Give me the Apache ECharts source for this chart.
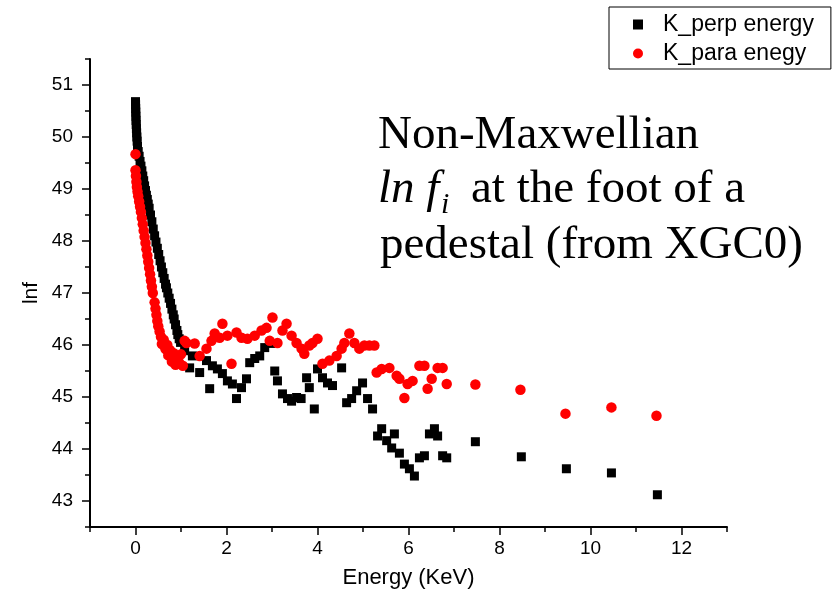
<!DOCTYPE html>
<html><head><meta charset="utf-8">
<script src="https://cdn.jsdelivr.net/npm/echarts@6/dist/echarts.min.js"></script>
<style>html,body{margin:0;padding:0;background:#fff}#c{width:838px;height:603px}</style>
</head><body><div id="c"></div>
<script>
// K_perp energy (black squares)
const perpEnergy = [0.000,0.002,0.004,0.006,0.009,0.012,0.016,0.020,0.025,0.030,0.036,0.044,0.06,0.08,0.10,0.12,0.14,0.16,0.18,0.20,0.22,0.24,0.26,0.28,0.30,0.33,0.36,0.39,0.42,0.45,0.48,0.51,0.54,0.57,0.60,0.63,0.66,0.68,0.71,0.74,0.77,0.80,0.83,0.85,0.88,0.91,0.93,0.96,0.99,
  1.08,1.19,1.25,1.41,1.56,1.63,1.69,1.80,1.91,2.02,2.13,2.22,2.33,2.44,2.51,2.62,2.73,2.84,2.97,3.06,3.12,3.23,3.34,3.43,3.54,3.64,3.76,3.82,3.93,4.00,4.11,4.22,4.33,4.53,4.64,4.75,4.86,4.99,5.10,5.21,5.32,5.41,5.52,5.63,5.69,5.80,5.91,6.02,6.13,6.24,6.35,6.46,6.57,6.64,6.75,6.84,7.47,8.48,9.47,10.46,11.47];
const perpLnf = [50.68,50.62,50.55,50.48,50.40,50.32,50.24,50.16,50.08,50.00,49.92,49.82,49.72,49.63,49.53,49.44,49.35,49.25,49.16,49.06,48.97,48.88,48.80,48.71,48.63,48.50,48.37,48.23,48.10,47.98,47.86,47.74,47.62,47.50,47.39,47.28,47.17,47.10,47.00,46.90,46.80,46.69,46.58,46.50,46.39,46.28,46.20,46.12,46.05,
  45.89,45.56,45.79,45.47,45.70,45.16,45.60,45.54,45.45,45.31,45.25,44.97,45.18,45.35,45.66,45.74,45.79,45.95,46.03,45.50,45.31,45.06,44.97,44.92,44.99,44.97,45.37,45.18,44.77,45.54,45.37,45.27,45.22,45.56,44.89,44.97,45.12,45.27,44.97,44.77,44.25,44.39,44.16,44.02,44.29,43.92,43.71,43.62,43.48,43.83,43.87,44.29,44.39,44.25,43.87,43.83,44.14,43.85,43.62,43.54,43.12];

// K_para enegy (red circles)
const paraEnergy = [0.00,0.00,0.01,0.02,0.03,0.045,0.06,0.08,0.10,0.12,0.14,0.16,0.18,0.20,0.22,0.24,0.26,0.28,0.30,0.32,0.34,0.36,0.38,0.42,0.44,0.46,0.48,0.50,0.53,0.56,0.58,0.62,0.66,0.70,0.72,0.76,0.80,0.84,0.88,0.92,0.96,1.00,1.04,
  1.08,1.12,1.30,1.41,1.56,1.67,1.74,1.85,1.91,2.02,2.11,2.22,2.33,2.46,2.62,2.77,2.88,2.95,3.01,3.12,3.23,3.32,3.43,3.54,3.65,3.71,3.82,3.89,4.00,4.11,4.26,4.42,4.53,4.59,4.70,4.81,4.92,5.03,5.14,5.25,5.30,5.41,5.58,5.74,5.80,5.91,5.98,6.09,6.24,6.35,6.42,6.51,6.64,6.75,6.84,7.47,8.46,9.45,10.46,11.45];
const paraLnf = [49.67,49.36,49.25,49.14,49.04,48.95,48.86,48.76,48.66,48.56,48.44,48.32,48.20,48.08,47.96,47.84,47.72,47.60,47.48,47.36,47.24,47.12,47.00,46.82,46.70,46.58,46.46,46.36,46.26,46.16,46.02,46.10,45.92,46.00,45.80,45.90,45.68,45.84,45.62,45.76,45.66,45.82,45.60,
  46.08,46.04,46.03,45.79,45.93,46.08,46.22,46.14,46.41,46.18,45.64,46.24,46.14,46.12,46.18,46.28,46.33,46.08,46.53,46.04,46.28,46.41,46.18,46.04,45.93,45.83,45.99,46.04,46.12,45.64,45.70,45.79,45.93,46.04,46.22,46.04,45.93,45.99,45.99,45.99,45.47,45.54,45.56,45.41,45.35,44.98,45.25,45.31,45.60,45.60,45.16,45.35,45.56,45.56,45.25,45.24,45.14,44.68,44.80,44.64];

const seriesNames = ['K_perp energy', 'K_para enegy'];
const xTickLabels = [0, 2, 4, 6, 8, 10, 12];
const yTickLabels = [43, 44, 45, 46, 47, 48, 49, 50, 51];

const zip = (a, b) => a.map((v, i) => [v, b[i]]);
const sans = '"Liberation Sans", Arial, sans-serif';
const serif = '"Liberation Serif", "Times New Roman", serif';
const black = '#000';

const chart = echarts.init(document.getElementById('c'), null, {renderer: 'canvas'});
chart.setOption({
  backgroundColor: '#fff',
  animation: false,
  grid: [
    {left: 90, right: 111, top: 59, bottom: 76},
    {left: 135.5, right: 156.5, top: 59, bottom: 76},
    {left: 90, right: 111, top: 85, bottom: 102}
  ],
  xAxis: [
    {gridIndex: 0, type: 'value', min: -1, max: 13, interval: 1,
     axisLine: {onZero: false, lineStyle: {color: black, width: 2}},
     axisTick: {length: 5, lineStyle: {color: black, width: 1.5}},
     axisLabel: {show: false}, splitLine: {show: false},
     name: 'Energy (KeV)', nameLocation: 'middle', nameGap: 40,
     nameTextStyle: {fontFamily: sans, fontSize: 22, color: black}},
    {gridIndex: 1, type: 'value', min: 0, max: 12, interval: 2,
     axisLine: {show: false, onZero: false},
     axisTick: {length: 8, lineStyle: {color: black, width: 1.5}},
     axisLabel: {margin: 12, fontFamily: sans, fontSize: 19, color: black,
       formatter: v => xTickLabels.includes(v) ? String(v) : ''},
     splitLine: {show: false}},
    {gridIndex: 2, type: 'value', min: -1, max: 13, show: false}
  ],
  yAxis: [
    {gridIndex: 0, type: 'value', min: 42.5, max: 51.5, interval: 0.5,
     axisLine: {show: true, onZero: false, lineStyle: {color: black, width: 2}},
     axisTick: {show: true, length: 5, lineStyle: {color: black, width: 1.5}},
     axisLabel: {show: false}, splitLine: {show: false},
     name: 'lnf', nameLocation: 'middle', nameGap: 48, nameRotate: 90,
     nameTextStyle: {fontFamily: sans, fontSize: 21, color: black}},
    {gridIndex: 1, type: 'value', min: 42.5, max: 51.5, show: false},
    {gridIndex: 2, type: 'value', min: 43, max: 51, interval: 1,
     axisLine: {show: false, onZero: false},
     axisTick: {show: true, length: 8, lineStyle: {color: black, width: 1.5}},
     axisLabel: {margin: 17, fontFamily: sans, fontSize: 19, color: black,
       formatter: v => yTickLabels.includes(v) ? String(v) : ''},
     splitLine: {show: false}}
  ],
  legend: {
    orient: 'vertical', left: 609, top: 7, padding: [6, 17, 4, 24], itemGap: 6,
    itemWidth: 40, itemHeight: 10, symbolKeepAspect: true,
    borderColor: black, borderWidth: 1, borderRadius: 0,
    textStyle: {fontFamily: sans, fontSize: 23, lineHeight: 22, color: black},
    data: [{name: seriesNames[0], icon: 'path://M0,0L10,0L10,10L0,10Z'}, {name: seriesNames[1], icon: 'circle'}]
  },
  series: [
    {name: seriesNames[0], type: 'scatter', xAxisIndex: 0, yAxisIndex: 0,
     symbol: 'rect', symbolSize: 9, itemStyle: {color: '#000', opacity: 1},
     data: zip(perpEnergy, perpLnf)},
    {name: seriesNames[1], type: 'scatter', xAxisIndex: 0, yAxisIndex: 0,
     symbol: 'circle', symbolSize: 10.5, itemStyle: {color: '#ff0000', opacity: 1},
     data: zip(paraEnergy, paraLnf)},
    {type: 'scatter', xAxisIndex: 1, yAxisIndex: 1, data: [], silent: true},
    {type: 'scatter', xAxisIndex: 2, yAxisIndex: 2, data: [], silent: true}
  ],
  graphic: [
    {type: 'text', x: 378, y: 112, style: {text: 'Non-Maxwellian', font: '47px ' + serif, fill: black}},
    {type: 'text', x: 378, y: 166, style: {text: 'ln f', font: 'italic 47px ' + serif, fill: black}},
    {type: 'text', x: 441, y: 190, style: {text: 'i', font: 'italic 30px ' + serif, fill: black}},
    {type: 'text', x: 471, y: 166, style: {text: 'at the foot of a', font: '47px ' + serif, fill: black}},
    {type: 'text', x: 380, y: 222, style: {text: 'pedestal (from XGC0)', font: '47px ' + serif, fill: black}}
  ]
});
</script>
</body></html>
